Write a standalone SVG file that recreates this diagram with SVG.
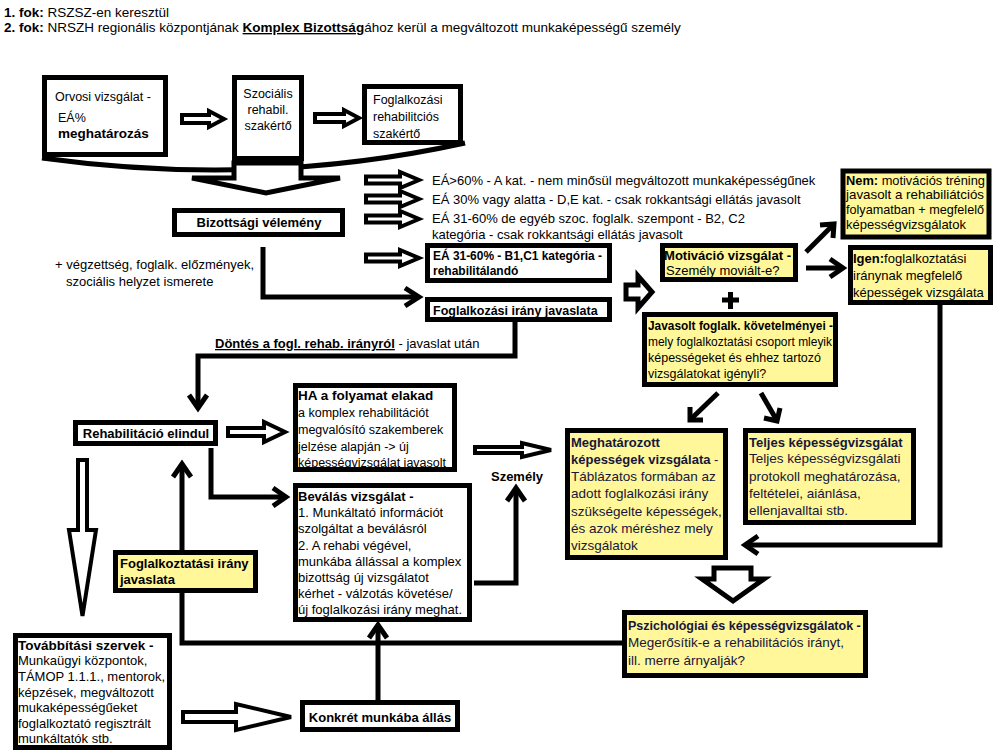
<svg xmlns="http://www.w3.org/2000/svg" width="996" height="754" viewBox="0 0 996 754">
<style>
.bx{fill:#fff;stroke:#000;stroke-width:5}
.yb{fill:#fff799;stroke:#000;stroke-width:5}
.t{font-family:"Liberation Sans",Arial,sans-serif;font-size:13.5px;fill:#000}
.s13{font-size:13px}
.s125{font-size:12.5px}
.s12{font-size:12px}
.b{font-weight:bold}
.nv{fill:#16163a}
.ln{fill:none;stroke:#000;stroke-width:5;stroke-linejoin:miter}
.hw{fill:#fff;stroke:#000;stroke-width:4;stroke-linejoin:miter}
.hw5{fill:#fff;stroke:#000;stroke-width:5;stroke-linejoin:miter}
</style>
<rect width="996" height="754" fill="#fff"/>

<g id="header">
<text class="t" x="4" y="17" font-size="13.4"><tspan class="b">1. fok:</tspan> RSZSZ-en keresztül</text>
<text class="t" x="4" y="32" font-size="13.4"><tspan class="b">2. fok:</tspan> NRSZH regionális központjának <tspan class="b" text-decoration="underline">Komplex Bizottság</tspan>ához kerül a megváltozott munkaképességű személy</text>
</g>

<g id="connectors">
<path class="ln" d="M42,158 Q260,188 465,143" stroke-width="7"/>
<polygon class="hw5" points="234,163 301,163 301,178 340,178 266,193 192,178 234,178"/>
<polygon class="hw" points="182,115 209,115 209,111 224,119 209,127 209,123 182,123"/>
<polygon class="hw" points="315,114 344,114 344,110 359,118 344,126 344,122 315,122"/>
<polygon class="hw" points="366,176.5 400,176.5 400,172 419,180 400,188 400,183.5 366,183.5"/>
<polygon class="hw" points="366,195.5 400,195.5 400,191 419,199 400,207 400,202.5 366,202.5"/>
<polygon class="hw" points="366,215.5 400,215.5 400,211 419,219 400,227 400,222.5 366,222.5"/>
<polygon class="hw" points="366,254.5 400,254.5 400,250 419,258 400,266 400,261.5 366,261.5"/>
<path class="ln" d="M263,247 V297 H417"/>
<path class="ln" d="M405,288 L419,297 L405,306"/>
<polygon class="hw5" points="626,285 638,285 638,276 652,292 638,308 638,299 626,299"/>
<path class="ln" d="M515,322 V356 H198 V406"/>
<path class="ln" d="M189,395 L198,408 L207,395"/>
<path class="ln" d="M806,252 L832,226"/>
<path class="ln" d="M820,225 L834,224 L833,238"/>
<path class="ln" d="M806,268 H841"/>
<path class="ln" d="M830,259 L843,268 L830,277"/>
<path class="ln" d="M718,393 L692,418"/>
<path class="ln" d="M690,407 L690,420 L703,420"/>
<path class="ln" d="M761,393 L776,419"/>
<path class="ln" d="M764,418 L777,421 L780,408"/>
<path class="ln" d="M940,305 V545 H747"/>
<path class="ln" d="M758,536 L745,545 L758,554"/>
<path class="ln" d="M722,300 H739 M730.5,292 V309" stroke-width="6"/>
<polygon class="hw" points="228,428 264,428 264,422 285,432 264,442 264,436 228,436"/>
<polygon class="hw" points="475,447 522,447 522,443 551,450 522,457 522,453 475,453"/>
<path class="ln" d="M211,448 V497 H284"/>
<path class="ln" d="M273,488 L286,497 L273,506"/>
<path class="ln" d="M474,583 H516 V490"/>
<path class="ln" d="M507,501 L516,488 L525,501"/>
<polygon class="hw" points="78,460 87,460 87,530 96,530 82.5,616 69,530 78,530"/>
<polygon class="hw5" points="714,568 751,568 751,579 764,579 733,601 702,579 714,579"/>
<path class="ln" d="M622,643 H182 V466"/>
<path class="ln" d="M173,477 L182,464 L191,477"/>
<path class="ln" d="M378,700 V627"/>
<path class="ln" d="M369,638 L378,625 L387,638"/>
<polygon class="hw" points="183,712 236,712 236,704 291,717 236,730 236,722 183,722"/>
</g>

<g id="orvosi">
<rect class="bx" x="44.5" y="77.5" width="121" height="77"/>
<text class="t s125" x="55" y="101">Orvosi vizsgálat -</text>
<text class="t s125" x="58" y="122">EÁ%</text>
<text class="t b" x="58" y="138">meghatározás</text>
</g>
<g id="szocialis">
<rect class="bx" x="234.5" y="77.5" width="67" height="81"/>
<text class="t s125" x="268" y="98" text-anchor="middle">Szociális</text>
<text class="t s125" x="268" y="114" text-anchor="middle">rehabil.</text>
<text class="t s125" x="268" y="130" text-anchor="middle">szakértő</text>
</g>
<g id="foglalkozasi-szakerto">
<rect class="bx" x="364.5" y="86.5" width="96" height="56"/>
<text class="t s125" x="373" y="104">Foglalkozási</text>
<text class="t s125" x="373" y="121">rehabilitciós</text>
<text class="t s125" x="373" y="138">szakértő</text>
</g>
<g id="bizottsagi">
<rect class="bx" x="174.5" y="210.5" width="168" height="24"/>
<text class="t s13 b" x="259" y="227" text-anchor="middle">Bizottsági vélemény</text>
</g>
<g id="kategoriak">
<text class="t s13" x="432" y="185">EÁ&gt;60% - A kat. - nem minősül megváltozott munkaképességűnek</text>
<text class="t s13" x="432" y="204">EÁ 30% vagy alatta - D,E kat. - csak rokkantsági ellátás javasolt</text>
<text class="t s13" x="432" y="223">EÁ 31-60% de egyéb szoc. foglalk. szempont - B2, C2</text>
<text class="t s13" x="432" y="239">kategória - csak rokkantsági ellátás javasolt</text>
</g>
<g id="vegzettseg">
<text class="t s13" x="55" y="269">+ végzettség, foglalk. előzmények,</text>
<text class="t s13" x="66" y="286">szociális helyzet ismerete</text>
</g>
<g id="rehabilitalando">
<rect class="bx" x="427.5" y="245.5" width="182" height="35"/>
<text class="t s12 b" x="433" y="260" textLength="169" lengthAdjust="spacingAndGlyphs">EÁ 31-60% - B1,C1 kategória -</text>
<text class="t s12 b" x="433" y="275">rehabilitálandó</text>
</g>
<g id="foglalkozasi-irany">
<rect class="bx" x="427.5" y="299.5" width="182" height="20"/>
<text class="t s125 b" x="433" y="315">Foglalkozási irány javaslata</text>
</g>
<g id="dontes">
<text class="t s13" x="215" y="348"><tspan class="b" text-decoration="underline">Döntés a fogl. rehab. irányról</tspan> - javaslat után</text>
</g>
<g id="motivacio">
<rect class="yb" x="662.5" y="245.5" width="133" height="34"/>
<text class="t s12 b" x="664" y="260" textLength="127" lengthAdjust="spacingAndGlyphs">Motiváció vizsgálat -</text>
<text class="t s13" x="666" y="275">Személy moviált-e?</text>
</g>
<g id="javasolt">
<rect class="yb" x="644.5" y="314.5" width="191" height="70"/>
<text class="t s12 b" x="648" y="330" textLength="185" lengthAdjust="spacingAndGlyphs">Javasolt foglalk. követelményei -</text>
<text class="t s12" x="648" y="346" textLength="184" lengthAdjust="spacingAndGlyphs">mely foglalkoztatási csoport mleyik</text>
<text class="t s125" x="648" y="362">képességeket és ehhez tartozó</text>
<text class="t s125" x="648" y="378">vizsgálatokat igényli?</text>
</g>
<g id="nem">
<rect class="yb" x="843" y="171" width="146" height="66" stroke-width="6"/>
<text class="t s13" x="846" y="185" textLength="139" lengthAdjust="spacingAndGlyphs"><tspan class="b">Nem:</tspan> motivációs tréning</text>
<text class="t s13" x="846" y="199" textLength="138" lengthAdjust="spacingAndGlyphs">javasolt a rehabiliátciós</text>
<text class="t s13" x="846" y="214" textLength="138" lengthAdjust="spacingAndGlyphs">folyamatban + megfelelő</text>
<text class="t s13" x="846" y="229">képességvizsgálatok</text>
</g>
<g id="igen">
<rect class="yb" x="850.5" y="247.5" width="140" height="55"/>
<text class="t s13" x="853" y="263"><tspan class="b">Igen:</tspan>foglalkoztatási</text>
<text class="t s13" x="853" y="280">iránynak megfelelő</text>
<text class="t s13" x="853" y="297">képességek vizsgálata</text>
</g>
<g id="rehabilitacio-elindul">
<rect class="bx" x="75.5" y="422.5" width="140" height="21"/>
<text class="t s13 b" x="146" y="438" text-anchor="middle">Rehabilitáció elindul</text>
</g>
<g id="ha-folyamat">
<rect class="bx" x="295.5" y="385.5" width="159" height="84"/>
<text class="t b" x="298" y="400">HA a folyamat elakad</text>
<text class="t s125" x="298" y="417">a komplex rehabilitációt</text>
<text class="t s125" x="298" y="434">megvalósító szakemberek</text>
<text class="t s125" x="298" y="451">jelzése alapján -&gt; új</text>
<text class="t s125" x="298" y="467">képességvizsgálat javasolt</text>
</g>
<g id="szemely">
<text class="t s13 b" x="517" y="481" text-anchor="middle">Személy</text>
</g>
<g id="bevalas">
<rect class="bx" x="295.5" y="485.5" width="174" height="134"/>
<text class="t b s13" x="298" y="501">Beválás vizsgálat -</text>
<text class="t s13" x="298" y="517">1. Munkáltató információt</text>
<text class="t s13" x="298" y="533">szolgáltat a beválásról</text>
<text class="t s13" x="298" y="550">2. A rehabi végével,</text>
<text class="t s13" x="298" y="566">munkába állással a komplex</text>
<text class="t s13" x="298" y="582">bizottság új vizsgálatot</text>
<text class="t s13" x="298" y="598">kérhet - válzotás követése/</text>
<text class="t s13" x="298" y="614">új foglalkozási irány meghat.</text>
</g>
<g id="meghatarozott">
<rect class="yb" x="567.5" y="430.5" width="158" height="127"/>
<text class="t s13 b nv" x="571" y="447">Meghatározott</text>
<text class="t s13 nv" x="571" y="464"><tspan class="b">képességek vizsgálata</tspan> -</text>
<text class="t nv" x="571" y="481">Táblázatos formában az</text>
<text class="t nv" x="571" y="498">adott foglalkozási irány</text>
<text class="t nv" x="571" y="516">szükségelte képességek,</text>
<text class="t nv" x="571" y="533">és azok méréshez mely</text>
<text class="t nv" x="571" y="550">vizsgálatok</text>
</g>
<g id="teljes">
<rect class="yb" x="745.5" y="430.5" width="168" height="92"/>
<text class="t s13 b nv" x="749" y="447">Teljes képességvizsgálat</text>
<text class="t nv" x="749" y="463">Teljes képességvizsgálati</text>
<text class="t nv" x="749" y="481">protokoll meghatározása,</text>
<text class="t nv" x="749" y="498">feltételei, aiánlása,</text>
<text class="t nv" x="749" y="515">ellenjavalltai stb.</text>
</g>
<g id="pszichologiai">
<rect class="yb" x="624.5" y="612.5" width="241" height="63"/>
<text class="t s125 b nv" x="628" y="630">Pszichológiai és képességvizsgálatok -</text>
<text class="t nv" x="628" y="647" font-size="14">Megerősítik-e a rehabilitációs irányt,</text>
<text class="t nv" x="628" y="665" font-size="14">ill. merre árnyalják?</text>
</g>
<g id="foglalkoztatasi-irany-javaslata">
<rect class="yb" x="115.5" y="552.5" width="140" height="38"/>
<text class="t s13 b" x="120" y="568">Foglalkoztatási irány</text>
<text class="t s13 b" x="120" y="584">javaslata</text>
</g>
<g id="tovabbitasi">
<rect class="bx" x="15.5" y="635.5" width="154" height="112"/>
<text class="t b" x="18" y="650">Továbbítási szervek -</text>
<text class="t s13" x="18" y="665">Munkaügyi központok,</text>
<text class="t s13" x="18" y="681">TÁMOP 1.1.1., mentorok,</text>
<text class="t s13" x="18" y="697">képzések, megváltozott</text>
<text class="t s13" x="18" y="712">mukaképességűeket</text>
<text class="t s13" x="18" y="728">foglalkoztató regisztrált</text>
<text class="t s13" x="18" y="743">munkáltatók stb.</text>
</g>
<g id="konkret">
<rect class="bx" x="302.5" y="702.5" width="155" height="27"/>
<text class="t s13 b" x="380" y="722" text-anchor="middle">Konkrét munkába állás</text>
</g>
</svg>
